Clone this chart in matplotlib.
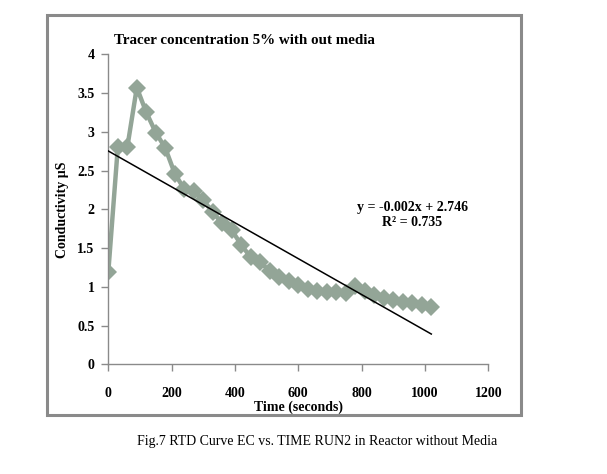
import numpy as np
import matplotlib
matplotlib.use("Agg")
import matplotlib.pyplot as plt
from matplotlib.patches import Rectangle

time_s = [0, 30, 60, 90, 120, 150, 180, 210, 240, 270, 300, 330, 360, 390, 420,
          450, 480, 510, 540, 570, 600, 630, 660, 690, 720, 750, 780, 810, 840,
          870, 900, 930, 960, 990, 1020]
conductivity = [1.19, 2.80, 2.80, 3.57, 3.25, 2.99, 2.79, 2.46, 2.26, 2.24, 2.12,
                1.96, 1.82, 1.73, 1.54, 1.38, 1.32, 1.20, 1.13, 1.08, 1.02, 0.97,
                0.95, 0.93, 0.93, 0.92, 1.01, 0.94, 0.90, 0.86, 0.83, 0.81, 0.79,
                0.77, 0.74]
x_ticks = [0, 200, 400, 600, 800, 1000, 1200]
y_ticks = [0, 0.5, 1, 1.5, 2, 2.5, 3, 3.5, 4]
y_tick_labels = ["0", "0.5", "1", "1.5", "2", "2.5", "3", "3.5", "4"]
title = "Tracer concentration 5% with out media"
x_label = "Time (seconds)"
y_label = "Conductivity µS"
equation = "y = -0.002x + 2.746"
r_squared = "R² = 0.735"
caption = "Fig.7 RTD Curve EC vs. TIME RUN2 in Reactor without Media"

plt.rcParams['font.family'] = ['Liberation Serif', 'DejaVu Serif']

W, H = 607, 474
fig = plt.figure(figsize=(W / 100, H / 100), dpi=100)

# outer chart frame
fig.patches.append(Rectangle((47 / W, 1 - 415 / H), (521 - 47) / W, (415 - 15) / H,
                             transform=fig.transFigure, fill=False,
                             edgecolor='#8a8a8a', linewidth=2.2))

ax = fig.add_axes([108.3 / W, 1 - 364.3 / H, 380 / W, 310 / H])
line_col = '#93a597'
ax.plot(time_s, conductivity, color=line_col, linewidth=3.2, marker='D',
        markersize=9.5, markerfacecolor=line_col, markeredgewidth=0, zorder=2)

# linear trendline
t = np.array(time_s, dtype=float)
slope, intercept = np.polyfit(t, np.array(conductivity), 1)
tx = np.array([t.min(), t.max()])
ax.plot(tx, slope * tx + intercept, color='black', linewidth=1.1, zorder=3)

ax.set_xlim(0, 1200)
ax.set_ylim(0, 4)
ax.set_xticks(x_ticks)
ax.set_yticks(y_ticks)
ax.set_yticklabels(y_tick_labels)
for s in ['top', 'right']:
    ax.spines[s].set_visible(False)
for s in ['left', 'bottom']:
    ax.spines[s].set_color('#8a8a8a')
    ax.spines[s].set_linewidth(1.0)
ax.tick_params(direction='out', length=5, color='#8a8a8a', width=1.0,
               labelsize=10, pad=5)
for lab in ax.get_xticklabels() + ax.get_yticklabels():
    lab.set_fontweight('bold')
ax.tick_params(axis='x', pad=11)
ax.set_xlabel(x_label, fontsize=10, fontweight='bold', labelpad=1)
ax.set_ylabel(y_label, fontsize=10, fontweight='bold', labelpad=6)

fig.text(244.5 / W, 1 - 41 / H, title, ha='center', va='center',
         fontsize=10.8, fontweight='bold')
fig.text(412.5 / W, 1 - 207 / H, equation, ha='center', va='center',
         fontsize=10, fontweight='bold')
fig.text(412.5 / W, 1 - 223 / H, r_squared, ha='center', va='center',
         fontsize=10, fontweight='bold')
fig.text(317 / W, 1 - 441 / H, caption, ha='center', va='center', fontsize=10)

fig.savefig('out.png', dpi=100)
